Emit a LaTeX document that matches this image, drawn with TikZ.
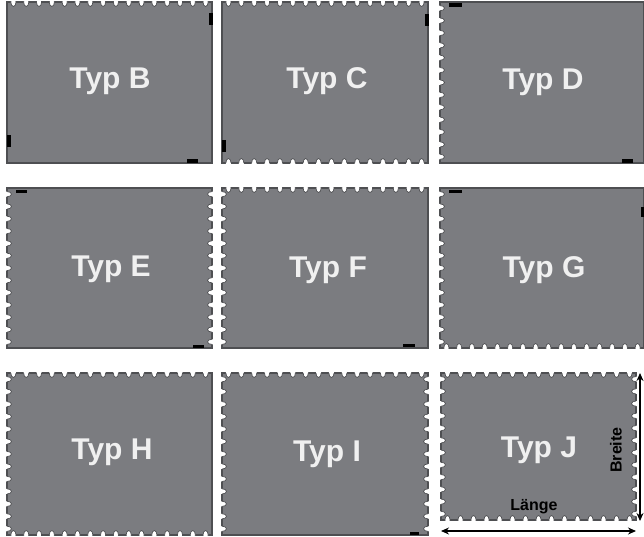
\documentclass[tikz,border=0pt]{standalone}
\usepackage{fontspec}
\setmainfont{Liberation Sans}
\usetikzlibrary{calc,arrows.meta}
\definecolor{stampgray}{RGB}{123,124,128}
\definecolor{stampedge}{RGB}{78,79,82}
\definecolor{labelwhite}{RGB}{240,240,240}
\tikzset{
  stamp/.style={rectangle, fill=stampgray, draw=stampedge, line width=1.1pt, inner sep=0pt, outer sep=0pt},
  stamptext/.style={text=labelwhite, font=\bfseries\fontsize{30}{30}\selectfont, anchor=base, inner sep=0pt},
  perfline/.style={draw=stampedge, line width=0.7pt},
  blackmark/.style={fill=black},
  dimtext/.style={text=black, font=\bfseries\fontsize{16}{16}\selectfont, inner sep=0pt},
  dimarrow/.style={line width=1.2pt, {Stealth[length=8pt,width=7pt]}-{Stealth[length=8pt,width=7pt]}}
}
% #1 node, #2 start anchor, #3 end anchor, #4 count, #5 x radius, #6 y radius
\newcommand\perfedge[6]{%
  \foreach \i in {1,...,#4}
    \fill[white] ($(#1.#2)!{(\i-0.5)/#4}!(#1.#3)$) circle [x radius=#5, y radius=#6];
  \begin{scope}
    \clip (#1.south west) rectangle (#1.north east);
    \foreach \i in {1,...,#4}
      \draw[perfline] ($(#1.#2)!{(\i-0.5)/#4}!(#1.#3)$) circle [x radius=#5, y radius=#6];
  \end{scope}}
\newcommand\perftop[1]{\perfedge{#1}{north west}{north east}{16}{2.6}{4.5}}
\newcommand\perfbottom[1]{\perfedge{#1}{south west}{south east}{16}{2.6}{4.5}}
\newcommand\perfleft[1]{\perfedge{#1}{north west}{south west}{13}{4.5}{2.6}}
\newcommand\perfright[1]{\perfedge{#1}{north east}{south east}{13}{4.5}{2.6}}
\begin{document}
\begin{tikzpicture}[x=1pt,y=-1pt]
\useasboundingbox (0,0) rectangle (644,537);
% row 1
\node[stamp, minimum width=205pt, minimum height=161pt] (B) at (109.5,82.5) {};
\node[stamp, minimum width=206pt, minimum height=161pt] (C) at (325,82.5) {};
\node[stamp, minimum width=204pt, minimum height=161pt] (D) at (542,82.5) {};
% row 2
\node[stamp, minimum width=205pt, minimum height=160pt] (E) at (109.5,268) {};
\node[stamp, minimum width=206pt, minimum height=160pt] (F) at (325,268) {};
\node[stamp, minimum width=204pt, minimum height=160pt] (G) at (542,268) {};
% row 3
\node[stamp, minimum width=205pt, minimum height=162pt] (H) at (109.5,454) {};
\node[stamp, minimum width=206pt, minimum height=162pt] (I) at (325,454) {};
\node[stamp, minimum width=195pt, minimum height=147pt] (J) at (538.5,446.5) {};
% perforations
\perftop{B}
\perftop{C}\perfbottom{C}
\perfleft{D}
\perfleft{E}\perfright{E}
\perftop{F}\perfleft{F}
\perfleft{G}\perfbottom{G}
\perftop{H}\perfleft{H}\perfbottom{H}
\perftop{I}\perfleft{I}\perfright{I}
\perfedge{J}{north west}{north east}{15}{2.6}{4.5}
\perfedge{J}{south west}{south east}{15}{2.6}{4.5}
\perfedge{J}{north west}{south west}{12}{4.5}{2.6}
\perfedge{J}{north east}{south east}{12}{4.5}{2.6}
% black marks
\fill[blackmark] (209,13) rectangle (212.5,25);
\fill[blackmark] (7,135) rectangle (10.5,147);
\fill[blackmark] (187,159.5) rectangle (198,163);
\fill[blackmark] (425,14) rectangle (428.5,26);
\fill[blackmark] (222,140) rectangle (226,152);
\fill[blackmark] (449,3.5) rectangle (462,7);
\fill[blackmark] (622,159.5) rectangle (633,163);
\fill[blackmark] (16,190) rectangle (27,193.5);
\fill[blackmark] (193,344.5) rectangle (204,348);
\fill[blackmark] (403,343.5) rectangle (415,347);
\fill[blackmark] (449,190) rectangle (462,193.5);
\fill[blackmark] (641,207) rectangle (644,217);
\fill[blackmark] (410,532) rectangle (419,535);
% labels
\node[stamptext] (tB) at (110,89) {Typ B};
\node[stamptext] (tC) at (327,89) {Typ C};
\node[stamptext] (tD) at (543,90) {Typ D};
\node[stamptext] (tE) at (111,276) {Typ E};
\node[stamptext] (tF) at (328,277) {Typ F};
\node[stamptext] (tG) at (544,277) {Typ G};
\node[stamptext] (tH) at (112,459) {Typ H};
\node[stamptext] (tI) at (327,461) {Typ I};
\node[stamptext] (tJ) at (539,457) {Typ J};
% dimensions
\coordinate (v1) at (640,373);
\coordinate (v2) at (640,521);
\coordinate (h1) at (441,531);
\coordinate (h2) at (636,531);
\draw[dimarrow] (v1) -- (v2);
\draw[dimarrow] (h1) -- (h2);
\node[dimtext, rotate=90] (breite) at (616,450) {Breite};
\node[dimtext] (laenge) at (534,507) {Länge};
\end{tikzpicture}
\end{document}
